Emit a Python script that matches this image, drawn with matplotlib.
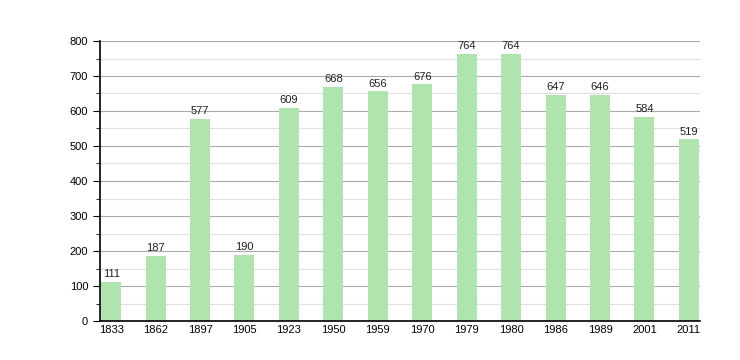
import matplotlib
matplotlib.use("Agg")
import matplotlib.pyplot as plt
from matplotlib.ticker import MultipleLocator

years = ["1833", "1862", "1897", "1905", "1923", "1950", "1959", "1970",
         "1979", "1980", "1986", "1989", "2001", "2011"]
population = [111, 187, 577, 190, 609, 668, 656, 676, 764, 764, 647, 646, 584, 519]

plt.rcParams['font.family'] = ['Liberation Sans', 'DejaVu Sans']

fig = plt.figure(figsize=(7.4, 3.6), dpi=100)
ax = fig.add_axes([100/740, 1-321/360, 600/740, 280/360])

x = list(range(len(years)))
ax.bar(x, population, width=0.45, color="#afe4ae", zorder=2)
for xi, v in zip(x, population):
    ax.text(xi, v + 8, str(v), ha="center", va="bottom", fontsize=8, color="#222222", zorder=3)

ax.set_xlim(-0.25, 13.25)
ax.set_ylim(0, 800)
ax.yaxis.set_major_locator(MultipleLocator(100))
ax.yaxis.set_minor_locator(MultipleLocator(50))
ax.grid(axis="y", which="major", color="#aaaaaa", linewidth=0.8, zorder=0)
ax.grid(axis="y", which="minor", color="#e0e0e0", linewidth=0.8, zorder=0)
ax.set_xticks(x)
ax.set_xticklabels(years)
ax.tick_params(axis="x", length=0, labelsize=8, pad=3)
ax.tick_params(axis="y", which="major", length=5, labelsize=8, direction="out")
ax.tick_params(axis="y", which="minor", length=3, direction="out")
for s in ["top", "right"]:
    ax.spines[s].set_visible(False)
ax.spines["left"].set_linewidth(1.2)
ax.spines["bottom"].set_linewidth(1.2)

fig.savefig("out.png", dpi=100)
